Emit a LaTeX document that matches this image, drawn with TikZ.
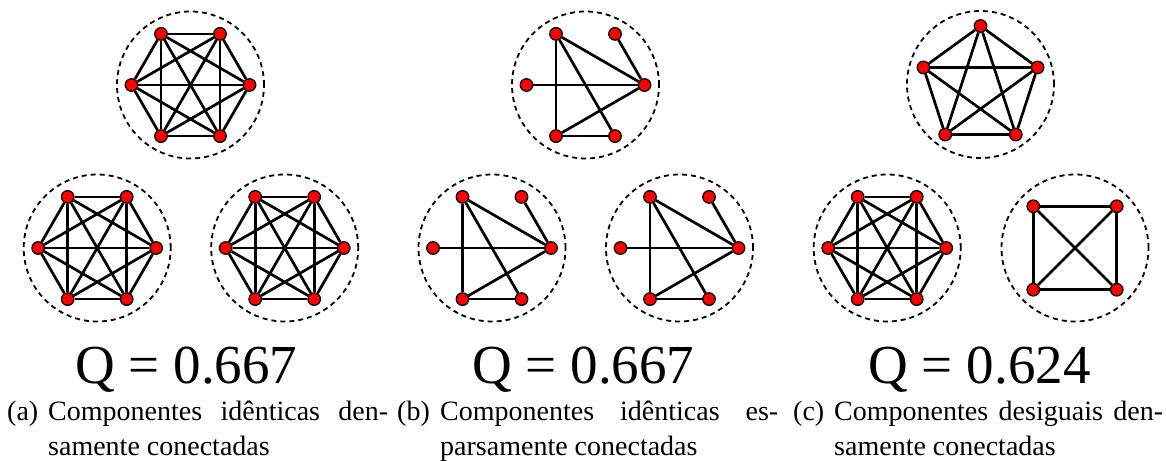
\documentclass[tikz,border=0pt]{standalone}
\usepackage{fontspec}
\setmainfont{Liberation Serif}
\usetikzlibrary{calc}

\begin{document}
\begin{tikzpicture}[
                x=1pt, y=-1pt,
                comp/.style={draw, circle, dash pattern=on 5pt off 4pt, line width=1.8pt, minimum size=147pt, inner sep=0pt},
                vert/.style={draw, circle, fill=red, line width=1.3pt, minimum size=12.5pt, inner sep=0pt},
                link/.style={line width=2.7pt},
                qval/.style={anchor=base, inner sep=0pt, font=\fontsize{55}{60}\selectfont},
                capt/.style={anchor=base west, align=justify, inner sep=0pt, font=\fontsize{28}{35}\selectfont}
            ]
            \useasboundingbox (0,0) rectangle (1166,460);

            % Components (dashed circles)
            \node[comp] (a0) at (190.5, 85) {};
            \node[comp] (a1) at (97.2, 248) {};
            \node[comp] (a2) at (284.7, 248) {};
            \node[comp] (b0) at (585.5, 85) {};
            \node[comp] (b1) at (492, 248) {};
            \node[comp] (b2) at (679.5, 248) {};
            \node[comp] (c0) at (980.5, 84.5) {};
            \node[comp] (c1) at (887.2, 248) {};
            \node[comp] (c2) at (1075, 248) {};

            % Vertices
            \foreach \g in {a0,a1,a2,b0,b1,b2,c1}
                \foreach \i in {1,...,6}
                    \node[vert] (\g-\i) at ($(\g)+(60*\i:59)$) {};
            \foreach \i in {1,...,5}
                \node[vert] (c0-\i) at ($(c0)+(0,1.5)+(-90+72*\i:60)$) {};
            \foreach \i in {1,...,4}
                \node[vert] (c2-\i) at ($(c2)+(45+90*\i:59)$) {};

            % Edges (complete graphs)
            \foreach \g/\n in {a0/6,a1/6,a2/6,c1/6,c0/5,c2/4}
                \foreach \i in {1,...,\n}
                    \foreach \j in {\i,...,\n}
                        {\ifnum\i<\j \draw[link] (\g-\i) -- (\g-\j); \fi}
            % Edges (sparse graphs)
            \foreach \g in {b0,b1,b2}
                \foreach \i/\j in {4/2,4/6,4/1,5/6,3/6,2/6,2/1}
                    \draw[link] (\g-\i) -- (\g-\j);

            % Modularity values
            \node[qval] (qa) at (186.5, 383) {Q = 0.667};
            \node[qval] (qb) at (583.3, 383) {Q = 0.667};
            \node[qval] (qc) at (979.5, 383) {Q = 0.624};

            % Captions
            \node[capt, text width=381pt] (capa) at (7, 420) {\hangindent=41pt\hangafter=1\makebox[41pt][l]{(a)}Componentes idênticas den-\linebreak samente conectadas\par};
            \node[capt, text width=381pt] (capb) at (397, 420) {\hangindent=43pt\hangafter=1\makebox[43pt][l]{(b)}Componentes idênticas es-\linebreak parsamente conectadas\par};
            \node[capt, text width=370pt] (capc) at (793, 420) {\hangindent=41pt\hangafter=1\makebox[41pt][l]{(c)}Componentes desiguais den-\linebreak samente conectadas\par};
\end{tikzpicture}
\end{document}
